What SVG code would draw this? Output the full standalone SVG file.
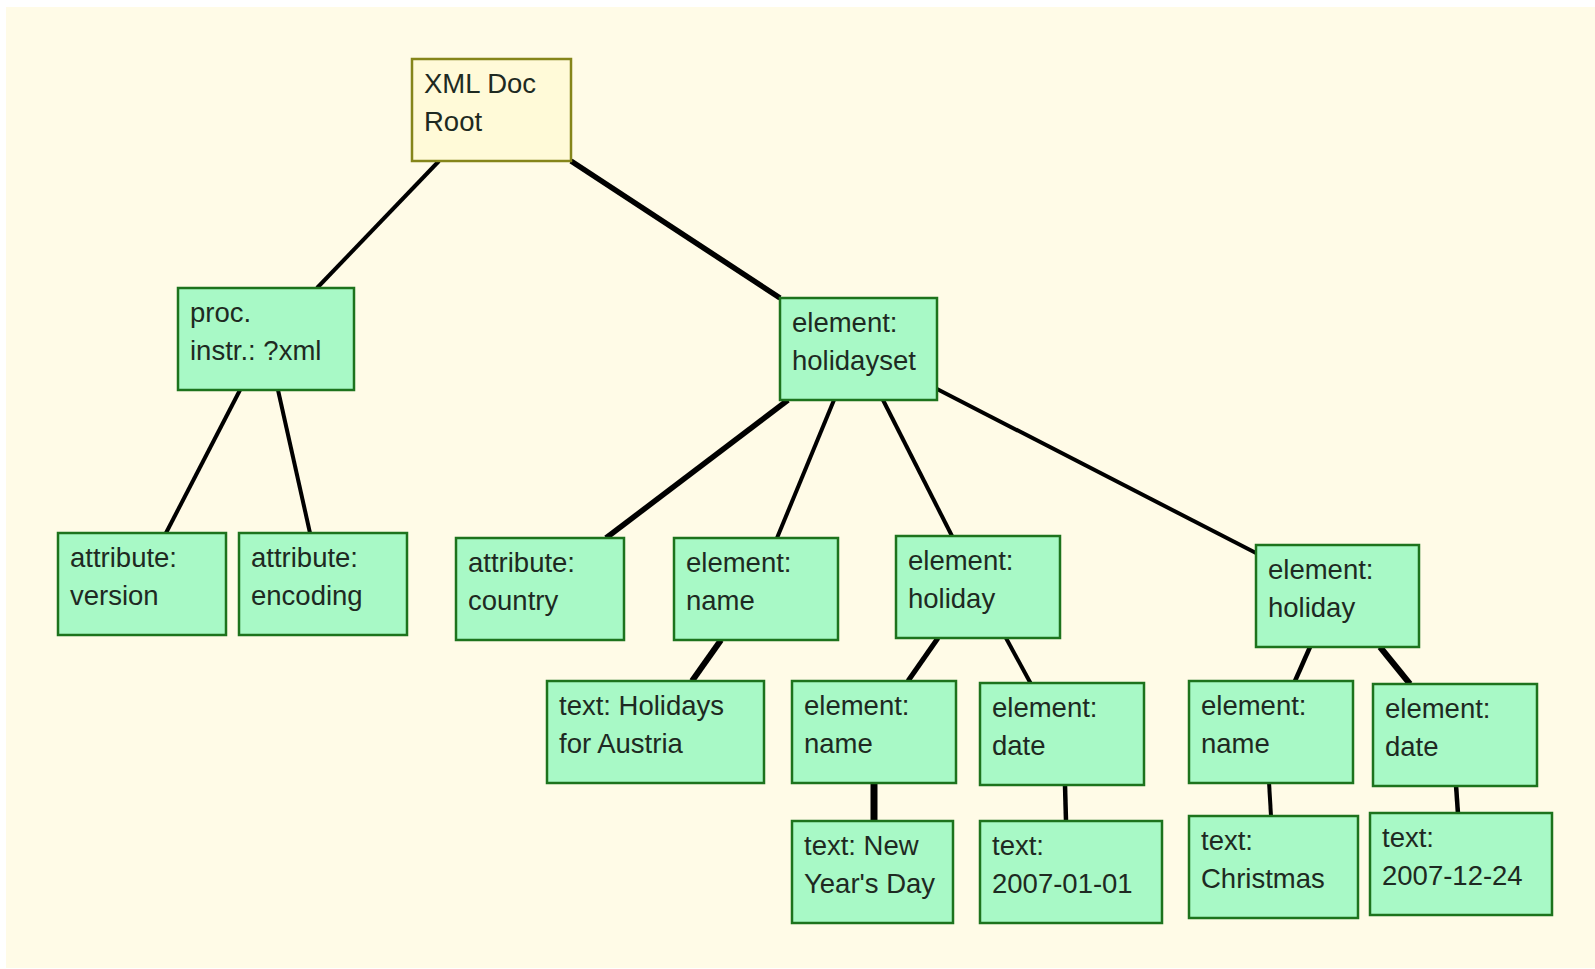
<svg xmlns="http://www.w3.org/2000/svg" width="1595" height="969" viewBox="0 0 1595 969">
<style>
.n{fill:#a8f9c6;stroke:#1d731d;stroke-width:2.5}
.r{fill:#fffad8;stroke:#85851a;stroke-width:2.5}
text{font-family:"Liberation Sans",Arial,sans-serif;font-size:27.5px;fill:#1e2a22}
.c line{stroke:#000;stroke-width:4;stroke-linecap:butt}
</style>
<rect x="0" y="0" width="1595" height="969" fill="#ffffff"/>
<rect x="6" y="7" width="1589" height="961" fill="#fffbe7"/>
<g class="c" id="connectors">
<line x1="439" y1="161" x2="317" y2="288"/>
<line x1="571" y1="161" x2="780" y2="298" style="stroke-width:5.5"/>
<line x1="240" y1="390" x2="166" y2="533"/>
<line x1="278" y1="390" x2="310" y2="533"/>
<line x1="788" y1="400" x2="606" y2="538" style="stroke-width:5.5"/>
<line x1="834" y1="400" x2="777" y2="538"/>
<line x1="883" y1="400" x2="952" y2="536"/>
<line x1="937" y1="389" x2="1256" y2="553"/>
<line x1="721" y1="640" x2="692" y2="681" style="stroke-width:6"/>
<line x1="938" y1="638" x2="908" y2="681" style="stroke-width:5"/>
<line x1="1006" y1="638" x2="1031" y2="684"/>
<line x1="874" y1="782" x2="874" y2="821" style="stroke-width:7"/>
<line x1="1065" y1="785" x2="1066" y2="821" style="stroke-width:4.5"/>
<line x1="1310" y1="647" x2="1295" y2="681" style="stroke-width:4.5"/>
<line x1="1380" y1="647" x2="1410" y2="684" style="stroke-width:6"/>
<line x1="1269" y1="782" x2="1271" y2="816"/>
<line x1="1456" y1="785" x2="1458" y2="814" style="stroke-width:4.5"/>
</g>
<g id="root"><rect class="r" x="412" y="59" width="159" height="102"/><text x="424" y="93">XML Doc</text><text x="424" y="131">Root</text></g>
<g id="proc"><rect class="n" x="178" y="288" width="176" height="102"/><text x="190" y="322">proc.</text><text x="190" y="360">instr.: ?xml</text></g>
<g id="attr-version"><rect class="n" x="58" y="533" width="168" height="102"/><text x="70" y="567">attribute:</text><text x="70" y="605">version</text></g>
<g id="attr-encoding"><rect class="n" x="239" y="533" width="168" height="102"/><text x="251" y="567">attribute:</text><text x="251" y="605">encoding</text></g>
<g id="el-holidayset"><rect class="n" x="780" y="298" width="157" height="102"/><text x="792" y="332">element:</text><text x="792" y="370">holidayset</text></g>
<g id="attr-country"><rect class="n" x="456" y="538" width="168" height="102"/><text x="468" y="572">attribute:</text><text x="468" y="610">country</text></g>
<g id="el-name1"><rect class="n" x="674" y="538" width="164" height="102"/><text x="686" y="572">element:</text><text x="686" y="610">name</text></g>
<g id="el-holiday1"><rect class="n" x="896" y="536" width="164" height="102"/><text x="908" y="570">element:</text><text x="908" y="608">holiday</text></g>
<g id="el-holiday2"><rect class="n" x="1256" y="545" width="163" height="102"/><text x="1268" y="579">element:</text><text x="1268" y="617">holiday</text></g>
<g id="text-austria"><rect class="n" x="547" y="681" width="217" height="102"/><text x="559" y="715">text: Holidays</text><text x="559" y="753">for Austria</text></g>
<g id="el-name2"><rect class="n" x="792" y="681" width="164" height="102"/><text x="804" y="715">element:</text><text x="804" y="753">name</text></g>
<g id="el-date2"><rect class="n" x="980" y="683" width="164" height="102"/><text x="992" y="717">element:</text><text x="992" y="755">date</text></g>
<g id="text-newyear"><rect class="n" x="792" y="821" width="161" height="102"/><text x="804" y="855">text: New</text><text x="804" y="893">Year's Day</text></g>
<g id="text-20070101"><rect class="n" x="980" y="821" width="182" height="102"/><text x="992" y="855">text:</text><text x="992" y="893">2007-01-01</text></g>
<g id="el-name3"><rect class="n" x="1189" y="681" width="164" height="102"/><text x="1201" y="715">element:</text><text x="1201" y="753">name</text></g>
<g id="el-date3"><rect class="n" x="1373" y="684" width="164" height="102"/><text x="1385" y="718">element:</text><text x="1385" y="756">date</text></g>
<g id="text-christmas"><rect class="n" x="1189" y="816" width="169" height="102"/><text x="1201" y="850">text:</text><text x="1201" y="888">Christmas</text></g>
<g id="text-20071224"><rect class="n" x="1370" y="813" width="182" height="102"/><text x="1382" y="847">text:</text><text x="1382" y="885">2007-12-24</text></g>
</svg>
